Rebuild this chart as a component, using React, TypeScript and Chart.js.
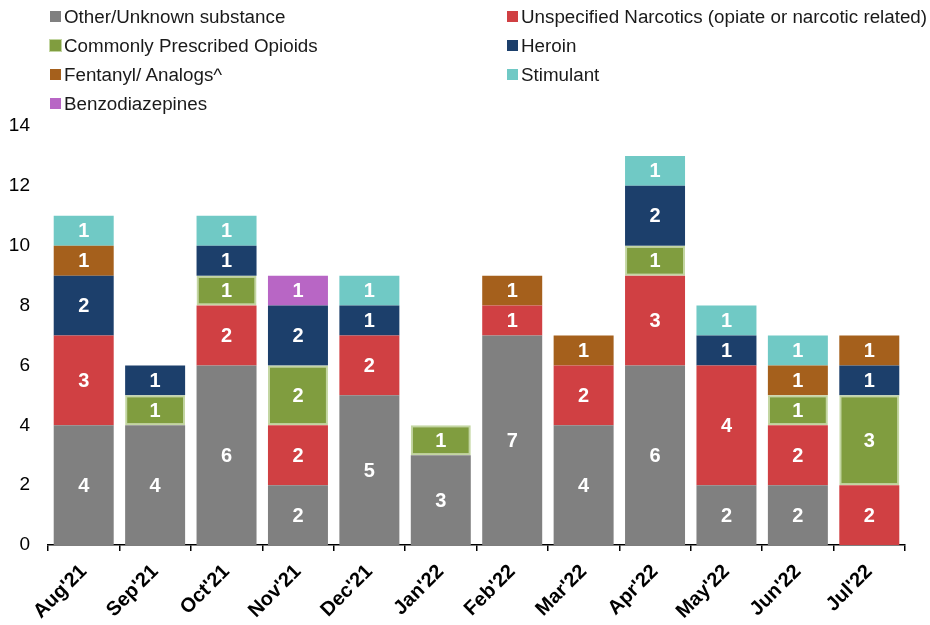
import React, { useEffect, useRef } from "react";
import { Chart, registerables } from "chart.js";

Chart.register(...registerables);

const categories = ["Aug'21", "Sep'21", "Oct'21", "Nov'21", "Dec'21", "Jan'22", "Feb'22", "Mar'22", "Apr'22", "May'22", "Jun'22", "Jul'22"];
const otherUnknown = [4, 4, 6, 2, 5, 3, 7, 4, 6, 2, 2, 0];
const unspecifiedNarcotics = [3, 0, 2, 2, 2, 0, 1, 2, 3, 4, 2, 2];
const prescribedOpioids = [0, 1, 1, 2, 0, 1, 0, 0, 1, 0, 1, 3];
const heroin = [2, 1, 1, 2, 1, 0, 0, 0, 2, 1, 0, 1];
const fentanyl = [1, 0, 0, 0, 0, 0, 1, 1, 0, 0, 1, 1];
const stimulant = [1, 0, 1, 0, 1, 0, 0, 0, 1, 1, 1, 0];
const benzodiazepines = [0, 0, 0, 1, 0, 0, 0, 0, 0, 0, 0, 0];
const yTicks = [0, 2, 4, 6, 8, 10, 12, 14];

const series = [
  { label: "Other/Unknown substance", data: otherUnknown, color: "#808080", border: "#808080", bw: 0 },
  { label: "Unspecified Narcotics (opiate or narcotic related)", data: unspecifiedNarcotics, color: "#D04043", border: "#D04043", bw: 0 },
  { label: "Commonly Prescribed Opioids", data: prescribedOpioids, color: "#809D3F", border: "#C3D6A2", bw: 2 },
  { label: "Heroin", data: heroin, color: "#1C3F6B", border: "#1C3F6B", bw: 0 },
  { label: "Fentanyl/ Analogs^", data: fentanyl, color: "#A5601C", border: "#A5601C", bw: 0 },
  { label: "Stimulant", data: stimulant, color: "#70C9C5", border: "#70C9C5", bw: 0 },
  { label: "Benzodiazepines", data: benzodiazepines, color: "#B866C5", border: "#B866C5", bw: 0 },
];

const legendOrder = [0, 1, 2, 3, 4, 5, 6];
const FONT = "Arial, 'Liberation Sans', sans-serif";

const valueLabels = {
  id: "valueLabels",
  afterDatasetsDraw(chart: any) {
    const ctx = chart.ctx;
    ctx.save();
    ctx.fillStyle = "#ffffff";
    ctx.font = "bold 20px " + FONT;
    ctx.textAlign = "center";
    ctx.textBaseline = "middle";
    chart.data.datasets.forEach((ds: any, i: number) => {
      const meta = chart.getDatasetMeta(i);
      meta.data.forEach((bar: any, j: number) => {
        const v = ds.data[j];
        if (!v) return;
        const mid = (bar.y + bar.base) / 2;
        ctx.fillText(String(v), bar.x, mid + 1);
      });
    });
    ctx.restore();
  },
};

export default function App() {
  const ref = useRef<HTMLCanvasElement>(null);
  useEffect(() => {
    if (!ref.current) return;
    const chart = new Chart(ref.current, {
      type: "bar",
      data: {
        labels: categories,
        datasets: series.map((s) => ({
          label: s.label,
          data: s.data,
          backgroundColor: s.color,
          borderColor: s.border,
          borderWidth: s.bw,
          borderSkipped: false,
          barPercentage: 0.84,
          categoryPercentage: 1,
        })),
      },
      options: {
        animation: false,
        responsive: false,
        maintainAspectRatio: false,
        layout: { padding: { top: 126, right: 25, left: 0, bottom: 0 } },
        plugins: { legend: { display: false }, tooltip: { enabled: false } },
        scales: {
          x: {
            stacked: true,
            border: { display: true, color: "#000000", width: 1.5 },
            grid: { display: true, drawOnChartArea: false, drawTicks: true, tickLength: 6, color: "#000000", lineWidth: 1.5, offset: true },
            ticks: {
              color: "#000000",
              font: { family: FONT, size: 20, weight: "bold" },
              maxRotation: 45,
              minRotation: 45,
              padding: 9,
            },
            afterFit: (axis: any) => {
              axis.paddingLeft = 0;
              axis.paddingRight = 0;
              axis.height = 80;
            },
          },
          y: {
            stacked: true,
            min: 0,
            max: 14,
            border: { display: false },
            grid: { display: false, drawTicks: false },
            afterBuildTicks: (axis: any) => {
              axis.ticks = yTicks.map((v) => ({ value: v }));
            },
            afterFit: (axis: any) => {
              axis.width = 48;
            },
            ticks: {
              color: "#000000",
              font: { family: FONT, size: 19 },
              padding: 18,
            },
          },
        },
      },
      plugins: [valueLabels],
    });
    return () => chart.destroy();
  }, []);

  const legendItem = (i: number) => {
    const s = series[i];
    return (
      <div key={i} style={{ display: "flex", alignItems: "center", height: 29, whiteSpace: "nowrap" }}>
        <span style={{ display: "inline-block", width: 11, height: 11, background: s.color, marginRight: 3, boxShadow: s.bw ? "0 0 0 1px #C3D6A2" : "none" }} />
        <span>{s.label}</span>
      </div>
    );
  };

  return (
    <div style={{ position: "absolute", left: 0, top: 0, width: 930, height: 625, background: "#fff", overflow: "hidden" }}>
      <canvas ref={ref} width={930} height={625} style={{ position: "absolute", left: 0, top: 0 }} />
      <div
        style={{
          position: "absolute",
          left: 50,
          top: 2,
          width: 880,
          display: "grid",
          gridTemplateColumns: "457px 423px",
          fontFamily: FONT,
          fontSize: 18.8,
          color: "#1a1a1a",
        }}
      >
        {legendOrder.map((i) => legendItem(i))}
      </div>
    </div>
  );
}
